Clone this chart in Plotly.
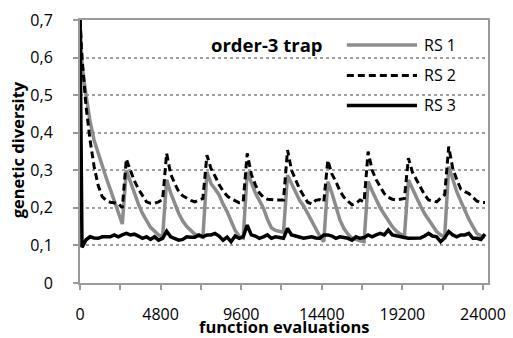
import plotly.graph_objects as go

# x positions (function evaluations) of the samples
evals = [0] + [120 + 240 * k for k in range(101)]

rs1 = [0.70, 0.58, 0.50, 0.43, 0.38, 0.345, 0.31, 0.28, 0.25, 0.22, 0.19, 0.157,
       0.30, 0.27, 0.235, 0.21, 0.185, 0.165, 0.148, 0.138, 0.128, 0.123,
       0.275, 0.24, 0.21, 0.185, 0.165, 0.15, 0.14, 0.13, 0.125, 0.122,
       0.296, 0.265, 0.25, 0.235, 0.21, 0.19, 0.165, 0.14, 0.125, 0.12,
       0.296, 0.265, 0.24, 0.22, 0.20, 0.17, 0.147, 0.14, 0.138, 0.135,
       0.287, 0.265, 0.24, 0.22, 0.205, 0.185, 0.165, 0.147, 0.125, 0.11,
       0.27, 0.24, 0.205, 0.168, 0.145, 0.13, 0.12, 0.115, 0.112, 0.11,
       0.27, 0.245, 0.222, 0.20, 0.183, 0.165, 0.15, 0.138, 0.13, 0.123,
       0.274, 0.25, 0.226, 0.205, 0.185, 0.168, 0.152, 0.137, 0.128, 0.123,
       0.31, 0.275, 0.243, 0.218, 0.192, 0.17, 0.15, 0.132, 0.125, 0.123]

rs2 = [0.70, 0.60, 0.47, 0.38, 0.31, 0.26, 0.23, 0.22, 0.215, 0.213, 0.212, 0.20,
       0.33, 0.30, 0.272, 0.25, 0.232, 0.216, 0.212, 0.212, 0.216, 0.222,
       0.345, 0.29, 0.265, 0.243, 0.232, 0.225, 0.22, 0.216, 0.22, 0.225,
       0.34, 0.305, 0.285, 0.262, 0.245, 0.232, 0.224, 0.218, 0.214, 0.216,
       0.345, 0.29, 0.262, 0.24, 0.228, 0.223, 0.221, 0.221, 0.221, 0.221,
       0.354, 0.30, 0.275, 0.25, 0.232, 0.215, 0.21, 0.22, 0.222, 0.216,
       0.327, 0.29, 0.27, 0.245, 0.228, 0.218, 0.208, 0.212, 0.221, 0.216,
       0.35, 0.30, 0.275, 0.256, 0.238, 0.228, 0.223, 0.221, 0.224, 0.225,
       0.332, 0.295, 0.275, 0.254, 0.235, 0.221, 0.218, 0.216, 0.226, 0.235,
       0.363, 0.305, 0.275, 0.25, 0.243, 0.238, 0.228, 0.218, 0.214, 0.214]

rs3 = [0.70, 0.095, 0.115, 0.123, 0.12, 0.119, 0.123, 0.123, 0.123, 0.128, 0.123, 0.128,
       0.132, 0.128, 0.13, 0.125, 0.119, 0.123, 0.116, 0.123, 0.114, 0.119,
       0.138, 0.123, 0.119, 0.114, 0.116, 0.123, 0.122, 0.122, 0.128, 0.123,
       0.128, 0.128, 0.132, 0.125, 0.114, 0.122, 0.11, 0.125, 0.119, 0.123,
       0.154, 0.128, 0.125, 0.119, 0.123, 0.128, 0.119, 0.123, 0.121, 0.119,
       0.145, 0.128, 0.125, 0.123, 0.119, 0.121, 0.123, 0.12, 0.119, 0.128,
       0.128, 0.125, 0.119, 0.123, 0.121, 0.119, 0.114, 0.123, 0.119, 0.121,
       0.128, 0.123, 0.128, 0.132, 0.128, 0.141, 0.128, 0.125, 0.123, 0.121,
       0.119, 0.119, 0.119, 0.12, 0.125, 0.132, 0.125, 0.123, 0.11, 0.12,
       0.137, 0.128, 0.123, 0.128, 0.128, 0.132, 0.119, 0.119, 0.116, 0.13]

series_names = ["RS 1", "RS 2", "RS 3"]
y_tickvals = [0, 0.1, 0.2, 0.3, 0.4, 0.5, 0.6, 0.7]
y_ticktext = ["0", "0,1", "0,2", "0,3", "0,4", "0,5", "0,6", "0,7"]
x_tickvals = [0, 4800, 9600, 14400, 19200, 24000]
x_ticktext = ["0", "4800", "9600", "14400", "19200", "24000"]

FONT = "Open Sans"
GRAY = "#8c8c8c"
AXIS = "#9a9a9a"

fig = go.Figure()
fig.add_trace(go.Scatter(x=evals, y=rs1, mode="lines", name=series_names[0],
                         line=dict(color=GRAY, width=3.5)))
fig.add_trace(go.Scatter(x=evals, y=rs2, mode="lines", name=series_names[1],
                         line=dict(color="black", width=3, dash="7px,4px")))
fig.add_trace(go.Scatter(x=evals, y=rs3, mode="lines", name=series_names[2],
                         line=dict(color="black", width=3.5)))

# manual legend
leg_y = [0.905, 0.789, 0.675]
styles = [dict(color=GRAY, width=3.5), dict(color="black", width=3, dash="7px,4px"),
          dict(color="black", width=3.5)]
for name, yy, st in zip(series_names, leg_y, styles):
    fig.add_shape(type="line", xref="paper", yref="paper", x0=0.654, x1=0.826,
                  y0=yy, y1=yy, line=st)
    fig.add_annotation(xref="paper", yref="paper", x=0.838, y=yy, text=name,
                       showarrow=False, xanchor="left", yanchor="middle",
                       font=dict(family=FONT, size=16, color="black"))

fig.add_annotation(xref="paper", yref="paper", x=0.458, y=0.905, text="<b>order-3 trap</b>",
                   showarrow=False, xanchor="center", yanchor="middle",
                   font=dict(family=FONT, size=18.5, color="black"))
fig.add_annotation(xref="paper", yref="paper", x=0.5, y=-0.166, text="<b>function evaluations</b>",
                   showarrow=False, xanchor="center", yanchor="middle",
                   font=dict(family=FONT, size=16.5, color="black"))
fig.add_annotation(xref="paper", yref="paper", x=-0.151, y=0.506, text="<b>genetic diversity</b>",
                   showarrow=False, xanchor="center", yanchor="middle", textangle=-90,
                   font=dict(family=FONT, size=16.5, color="black"))

fig.update_layout(
    width=513, height=338,
    margin=dict(l=80, r=25, t=20, b=55),
    paper_bgcolor="white", plot_bgcolor="white",
    showlegend=False,
    font=dict(family=FONT, size=16, color="black"),
    xaxis=dict(range=[0, 24300], tickvals=x_tickvals, ticktext=x_ticktext,
               showgrid=False, zeroline=False, showline=True, linecolor=AXIS,
               linewidth=2, mirror=True, ticks="outside", ticklen=5, tickcolor=AXIS,
               tickwidth=1.5, ticklabelstandoff=11, automargin=False,
               minor=dict(dtick=2400, tick0=0, ticks="outside", ticklen=5,
                          tickcolor=AXIS, tickwidth=1.5, showgrid=False),
               tickfont=dict(family=FONT, size=16)),
    yaxis=dict(range=[0, 0.7], tickvals=y_tickvals, ticktext=y_ticktext,
               showgrid=True, gridcolor="#a0a0a0", griddash="dot", gridwidth=1.5,
               zeroline=False, showline=True, linecolor=AXIS, linewidth=2, mirror=True,
               ticks="outside", ticklen=5, tickcolor=AXIS, tickwidth=1.5,
               ticklabelstandoff=17, automargin=False, tickfont=dict(family=FONT, size=16)),
)

fig.write_html("out.html", config={"displayModeBar": False},
               post_script="document.body.style.margin='0';")
